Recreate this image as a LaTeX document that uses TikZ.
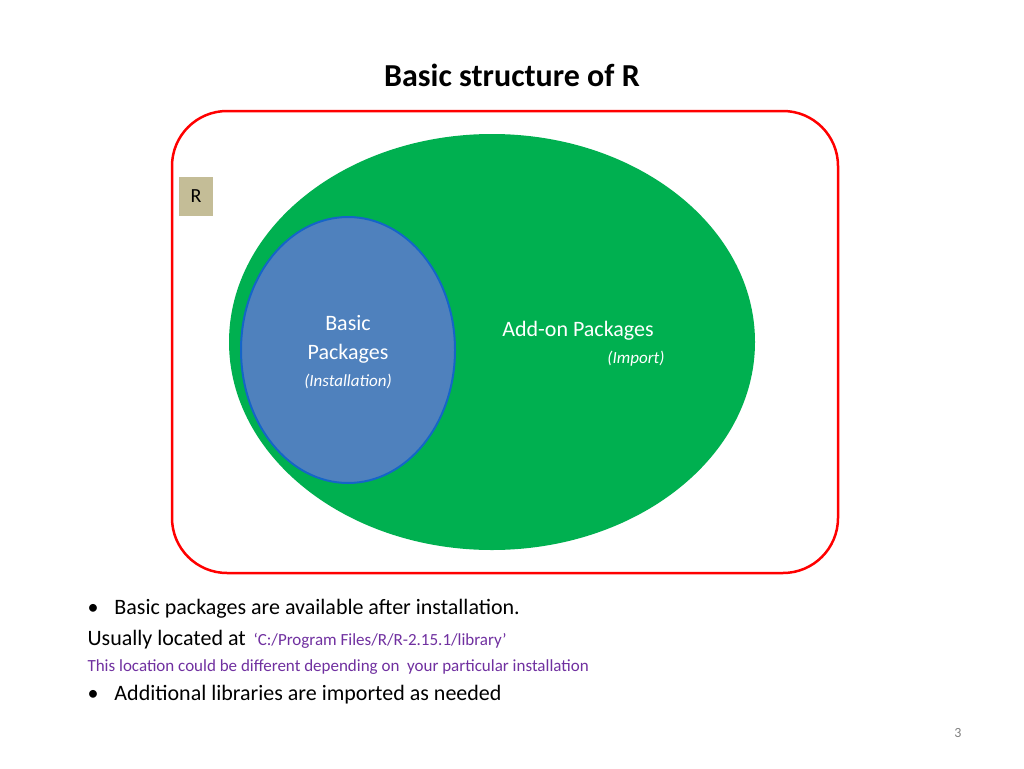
\documentclass[tikz,border=0pt]{standalone}
\usepackage{fontspec}
\setmainfont{Carlito}
\definecolor{grn}{HTML}{00B050}
\definecolor{blu}{HTML}{4F81BD}
\definecolor{bluedge}{HTML}{1565C8}
\definecolor{tan}{HTML}{C4BD97}
\definecolor{purp}{HTML}{7030A0}
\tikzset{fs/.style={font=\fontsize{#1}{#1}\selectfont}}
\begin{document}
\begin{tikzpicture}[x=1pt,y=-1pt]
\useasboundingbox[fill=white] (0,0) rectangle (1024,768);
\node[fs=32,font=\fontsize{32}{32}\selectfont\bfseries] (title) at (512,75) {Basic structure of R};
\node[draw=red,line width=2.5pt,rounded corners=55pt,minimum width=666pt,minimum height=462pt] (frame) at (505,342) {};
\fill[grn] (492,342) ellipse [x radius=263, y radius=208];
\node[fill=tan,minimum width=34pt,minimum height=39pt,inner sep=0pt,fs=20] (r) at (196,196) {R};
\draw[fill=blu,draw=bluedge,line width=2pt] (348,350) ellipse [x radius=107, y radius=133];
\node[text=white,fs=22] (b1) at (348,323) {Basic};
\node[text=white,fs=22] (b2) at (348,354) {Packages};
\node[text=white,fs=17,font=\fontsize{17}{17}\selectfont\itshape] (b3) at (348,381) {(Installation)};
\node[text=white,fs=22] (a1) at (578,331) {Add-on Packages};
\node[text=white,anchor=east,font=\fontsize{17}{17}\selectfont\itshape] (a2) at (668,359) {(Import)};
\node[anchor=west,fs=22] (l1) at (84,609) {\textbullet\hspace{16pt}Basic packages are available after installation.};
\node[anchor=west,fs=22] (l2) at (84,640) {Usually located at \textcolor{purp}{\fontsize{17}{17}\selectfont\,‘C:/Program Files/R/R-2.15.1/library’}};
\node[anchor=west,fs=17,text=purp] (l3) at (84,667) {This location could be different depending on\ \ your particular installation};
\node[anchor=west,fs=22] (l4) at (84,695) {\textbullet\hspace{16pt}Additional libraries are imported as needed};
\node[text=gray,fs=14] (pg) at (958,733) {3};
\end{tikzpicture}
\end{document}
